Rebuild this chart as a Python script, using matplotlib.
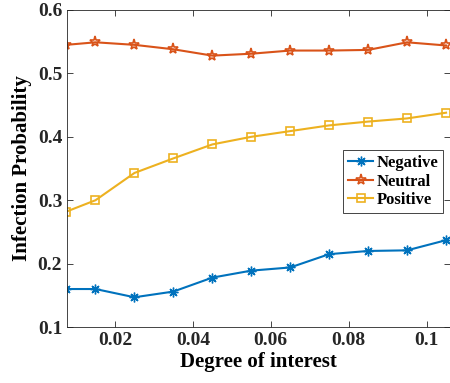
import numpy as np
import matplotlib.pyplot as plt

degree = [0.0075, 0.015, 0.025, 0.035, 0.045, 0.055, 0.065, 0.075, 0.085, 0.095, 0.105]
negative = [0.160, 0.160, 0.147, 0.156, 0.178, 0.189, 0.194, 0.215, 0.220, 0.221, 0.237]
neutral = [0.545, 0.549, 0.545, 0.538, 0.528, 0.531, 0.536, 0.536, 0.537, 0.549, 0.544]
positive = [0.282, 0.300, 0.343, 0.366, 0.388, 0.400, 0.409, 0.418, 0.424, 0.429, 0.438]

plt.rcParams['font.family'] = ['Liberation Serif', 'DejaVu Serif']
plt.rcParams['font.weight'] = 'bold'

fig = plt.figure(figsize=(4.5, 3.83), dpi=100)
ax = fig.add_axes([0.149, 0.146, 0.85, 0.828])

ax.plot(degree, negative, color='#0072BD', lw=1.5, marker=(8, 2, 0), ms=7,
        label='Negative')
ax.plot(degree, neutral, color='#D95319', lw=1.5, marker='*', ms=8,
        mfc='none', mew=1.2, label='Neutral')
ax.plot(degree, positive, color='#EDB120', lw=1.5, marker='s', ms=6,
        mfc='none', mew=1.2, label='Positive')

ax.set_xlim(0.0077, 0.1059)
ax.set_ylim(0.1, 0.6)
ax.set_xticks([0.02, 0.04, 0.06, 0.08, 0.1])
ax.set_xticklabels(['0.02', '0.04', '0.06', '0.08', '0.1'])
ax.set_yticks([0.1, 0.2, 0.3, 0.4, 0.5, 0.6])
ax.set_yticklabels(['0.1', '0.2', '0.3', '0.4', '0.5', '0.6'])
ax.tick_params(direction='in', top=True, right=True, labelsize=14,
               length=4, width=0.6, colors='#262626')
for s in ax.spines.values():
    s.set_color('#262626')
    s.set_linewidth(0.6)

ax.set_xlabel('Degree of interest', fontsize=15, fontweight='bold', labelpad=2)
ax.set_ylabel('Infection Probability', fontsize=15, fontweight='bold', labelpad=4)

leg = ax.legend(loc='upper left', bbox_to_anchor=(0.722, 0.558), fontsize=12,
                fancybox=False, edgecolor='#262626', framealpha=1,
                handlelength=1.5, handletextpad=0.2, borderpad=0.3,
                labelspacing=0.15, borderaxespad=0)
leg.get_frame().set_linewidth(0.6)

fig.savefig('out.png', dpi=100)
